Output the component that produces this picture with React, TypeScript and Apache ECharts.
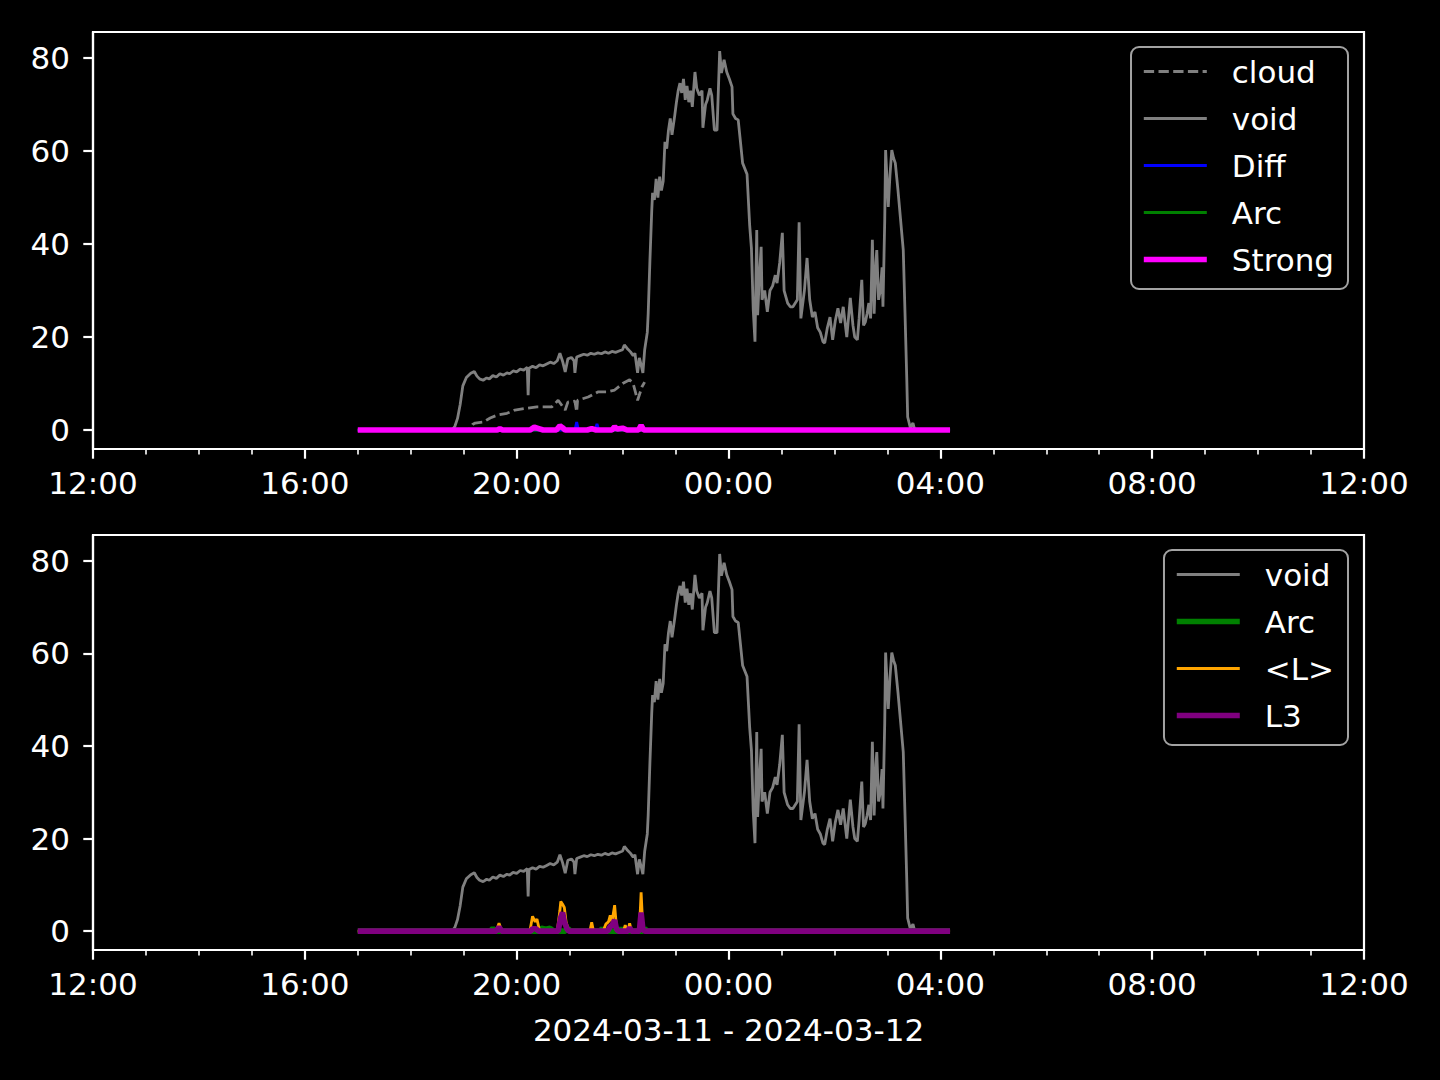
import React, { useEffect, useRef } from "react";
import * as echarts from "echarts";

// ---- data ----
const VOID_T = [
  "17:00","18:47","18:50","18:53","18:56","18:59","19:03","19:08","19:12","19:15","19:18","19:22","19:26","19:29","19:33","19:37","19:41","19:45","19:49","19:52","19:56",
  "20:00","20:04","20:08","20:12","20:13","20:14","20:18","20:22","20:26","20:30","20:34","20:38","20:42","20:46","20:49","20:52","20:55","20:58",
  "21:02","21:05","21:06","21:08","21:12","21:16","21:20","21:24","21:28","21:32","21:36","21:40","21:44","21:48","21:52","21:56",
  "22:00","22:02","22:05","22:09","22:12","22:14","22:17","22:19","22:21","22:23","22:25","22:28","22:29","22:31","22:33","22:34","22:36","22:38","22:40","22:42","22:44","22:46","22:48","22:50","22:52","22:54","22:56","22:59",
  "23:01","23:03","23:05","23:07","23:09","23:11","23:13","23:15","23:17","23:19","23:22","23:24","23:27","23:30","23:31","23:34","23:36","23:39","23:41","23:44","23:47","23:50","23:52","23:55","23:58",
  "00:01","00:04","00:05","00:08","00:11","00:13","00:16","00:21","00:24","00:26","00:28","00:30","00:32","00:33","00:35","00:37","00:38","00:41","00:44","00:47","00:50","00:53","00:55","00:58",
  "01:01","01:03","01:07","01:10","01:13","01:18","01:20","01:22","01:26","01:29","01:32","01:35","01:38","01:41","01:44","01:47","01:49","01:52","01:55","01:58",
  "02:01","02:04","02:07","02:10","02:14","02:18","02:21","02:23","02:26","02:28","02:31","02:33","02:35","02:37","02:39","02:41","02:43","02:45","02:47","02:48","02:50","02:52","02:54","02:55","02:57","02:58",
  "03:01","03:03","03:05","03:07","03:09","03:12","03:16","03:18","03:20","03:22","03:23","03:26","03:29","03:31","04:11"
];
const VOID_V = [
  0,0,0.8,2.5,5.5,9.5,11.3,12.2,12.6,11.6,11.0,10.7,11.2,11.0,11.7,11.4,12.1,11.8,12.3,12.1,12.7,
  12.5,13.1,12.9,13.5,7.5,13.3,13.7,13.4,14.0,13.8,14.2,14.6,14.3,14.9,16.5,14.8,12.5,15.3,
  15.6,14.9,12.3,15.7,16.0,16.3,16.1,16.5,16.3,16.6,16.4,16.8,16.5,16.9,16.7,17.0,
  17.3,18.3,17.6,16.8,16.0,16.5,12.3,15.5,14.0,12.3,17.2,21.0,25.0,36.6,47.0,51.0,49.5,54.0,50.0,54.5,51.5,53.5,62.0,60.5,64.5,67.0,63.5,67.5,
  70.5,73.0,74.6,72.5,75.5,71.0,74.0,70.5,73.0,69.5,77.0,73.5,72.0,73.0,65.0,70.0,71.0,73.5,72.0,64.5,64.5,81.5,76.8,79.6,77.0,
  75.5,73.8,68.0,67.0,66.7,63.0,57.4,55.0,44.0,39.0,26.0,19.0,43.0,24.7,33.0,39.4,28.0,30.0,25.4,30.0,31.0,33.3,31.6,36.0,
  42.4,30.0,27.3,26.5,26.5,28.0,44.7,24.0,30.0,37.0,28.0,24.3,25.4,22.0,21.0,19.0,18.7,22.0,24.3,19.4,
  23.5,26.2,23.0,26.5,20.0,28.4,22.5,20.0,19.4,24.0,32.3,22.5,23.2,25.0,27.3,24.0,40.9,25.0,36.0,38.7,28.0,30.0,35.0,26.5,45.0,60.2,
  48.0,55.0,60.2,58.5,57.4,51.6,43.0,38.7,25.0,10.8,2.8,0.5,1.5,0,0
];

const CLOUD_T = [
  "17:00","19:06","19:10","19:13","19:22","19:30","19:38","19:49","19:58","20:12","20:23","20:34","20:40","20:47","20:55","20:58","21:06","21:08","21:09","21:21","21:32","21:43","21:51","22:00","22:08","22:12","22:17","22:22","22:25"
];
const CLOUD_V = [
  0,0,1.2,1.5,1.7,2.6,3.2,3.6,4.3,4.7,5.0,5.0,5.0,6.4,4.3,6.0,6.2,3.9,6.4,7.1,8.2,8.2,8.6,10.0,10.8,10.0,6.4,9.3,10.3
];

const DIFF_T = ["17:00","21:06","21:08","21:10","21:29","21:31","21:33","04:11"];
const DIFF_V = [0,0,1.7,0,0,1.3,0,0];

const ARC_TOP_T = ["17:00","20:47","20:50","20:53","21:45","21:47","21:49","04:11"];
const ARC_TOP_V = [0,0,0.4,0,0,0.3,0,0];

const STRONG_T = [
  "17:00","19:38","19:41","19:44","20:15","20:20","20:25","20:30","20:45","20:49","20:52","20:55","21:20","21:25","21:30","21:48","21:51","21:54","22:00","22:05","22:18","22:21","22:24","04:11"
];
const STRONG_V = [0,0,0.3,0,0,0.6,0.3,0,0,0.9,0.5,0,0,0.3,0,0,0.7,0.2,0.4,0,0,1.0,0,0];

const ARC_BOT_T = [
  "17:00","19:30","19:33","19:36","20:24","20:28","20:33","20:38","20:42","20:55","20:58","21:01","21:35","21:37","21:39","21:56","21:58","22:00","22:23","22:25","22:27","04:11"
];
const ARC_BOT_V = [0,0,0.6,0,0,0.6,0.4,0.6,0,0,0.6,0,0,0.6,0,0,0.6,0,0,0.6,0,0];

const L_T = [
  "17:00","19:37","19:40","19:43","20:15","20:18","20:21","20:23","20:26","20:46","20:49","20:50","20:52","20:54","20:56","20:59","21:23","21:25","21:27","21:38","21:41","21:44","21:46","21:48","21:51","21:53","21:55","22:01","22:03","22:05","22:06","22:08","22:10","22:19","22:21","22:23","22:25","04:11"
];
const L_V = [
  0,0,1.7,0,0,3.2,2.0,2.6,0,0,4.5,6.4,5.8,5.1,2.0,0,0,1.9,0,0,1.5,2.0,3.4,2.0,5.6,1.0,0,0,1.3,0,0,1.7,0,0,8.4,0.5,0,0
];

const L3_T = [
  "17:00","19:37","19:40","19:43","20:16","20:18","20:22","20:25","20:47","20:50","20:52","20:54","20:57","20:59","21:43","21:46","21:48","21:51","21:53","21:55","22:06","22:08","22:10","22:19","22:21","22:23","22:25","04:11"
];
const L3_V = [0,0,0.9,0,0,0.5,0.5,0,0,3.0,4.0,2.0,0.5,0,0,1.0,1.2,2.4,0.5,0,0,0.8,0,0,4.0,0.4,0,0];

const X_TICK_LABELS = ["12:00","16:00","20:00","00:00","04:00","08:00","12:00"];
const Y_TICKS = [0, 20, 40, 60, 80];
const DATE_LABEL = "2024-03-11 - 2024-03-12";

// hours since 2024-03-11 12:00
function toHours(t: string): number {
  const [hh, mm] = t.split(":").map(Number);
  const h = hh < 12 ? hh + 24 : hh;
  return h - 12 + mm / 60;
}
function pairs(ts: string[], vs: number[]) {
  return ts.map((t, i) => [toHours(t), vs[i]]);
}

const FONT = "DejaVu Sans";
const FS = 31;

export default function App() {
  const ref = useRef<HTMLDivElement>(null);
  useEffect(() => {
    document.body.style.margin = "0";
    document.body.style.background = "#000";
    const chart = echarts.init(ref.current!, null, { renderer: "svg" });

    const grids = [
      { left: 93, top: 32, width: 1271, height: 417 },
      { left: 93, top: 535, width: 1271, height: 415 },
    ];

    const xAxisBase = (gi: number) => ({
      type: "value" as const,
      gridIndex: gi,
      min: 0,
      max: 24,
      interval: 4,
      axisLine: { show: true, onZero: false, lineStyle: { color: "#fff", width: 2.2 } },
      axisTick: { show: true, inside: false, length: 9.7, lineStyle: { color: "#fff", width: 2.2 } },
      minorTick: { show: true, splitNumber: 4, length: 5.6, lineStyle: { color: "#fff", width: 1.6 } },
      splitLine: { show: false },
      axisLabel: {
        color: "#fff",
        fontFamily: FONT,
        fontSize: FS,
        margin: 18,
        formatter: (v: number) => X_TICK_LABELS[Math.round(v / 4)] ?? "",
      },
    });

    const yAxisBase = (gi: number) => ({
      type: "value" as const,
      gridIndex: gi,
      min: -4.08,
      max: 85.6,
      axisLine: { show: true, onZero: false, lineStyle: { color: "#fff", width: 2.2 } },
      axisTick: { show: true, length: 9.7, customValues: Y_TICKS, lineStyle: { color: "#fff", width: 2.2 } },
      splitLine: { show: false },
      axisLabel: {
        color: "#fff",
        fontFamily: FONT,
        fontSize: FS,
        margin: 23,
        customValues: Y_TICKS,
      },
    });

    const line = (name: string, gi: number, data: any[], color: string, width: number, type: any = "solid", z = 2) => ({
      name,
      type: "line" as const,
      xAxisIndex: gi,
      yAxisIndex: gi,
      data,
      symbol: "none",
      showSymbol: false,
      smooth: false,
      z,
      lineStyle: { color, width, type },
      itemStyle: { color },
      emphasis: { disabled: true },
    });

    const legendBase = {
      orient: "vertical" as const,
      right: 92,
      itemWidth: 63,
      itemHeight: 28,
      itemGap: 16,
      padding: [9, 14, 14, 10],
      backgroundColor: "rgba(0,0,0,0.8)",
      borderColor: "#a3a3a3",
      borderWidth: 2,
      borderRadius: 8,
      itemStyle: { opacity: 0, borderWidth: 0 },
      lineStyle: { width: "inherit" },
      textStyle: { color: "#fff", fontFamily: FONT, fontSize: FS, padding: [0, 0, 0, 20] },
      selectedMode: false,
    };

    chart.setOption({
      animation: false,
      backgroundColor: "#000",
      grid: grids.map((g) => ({ ...g, show: true, borderColor: "#fff", borderWidth: 2.2, backgroundColor: "#000" })),
      xAxis: [
        xAxisBase(0),
        {
          ...xAxisBase(1),
          name: DATE_LABEL,
          nameLocation: "middle",
          nameGap: 64,
          nameTextStyle: { color: "#fff", fontFamily: FONT, fontSize: FS, verticalAlign: "top" },
        },
      ],
      yAxis: [yAxisBase(0), yAxisBase(1)],
      legend: [
        {
          ...legendBase,
          top: 47,
          data: [
            { name: "cloud" },
            { name: "void" },
            { name: "Diff" },
            { name: "Arc", lineStyle: { width: 2.8, color: "#008000" } },
            { name: "Strong" },
          ],
        },
        {
          ...legendBase,
          top: 550,
          data: [
            { name: "void" },
            { name: "Arc", lineStyle: { width: 5.6, color: "#008000" } },
            { name: "<L>" },
            { name: "L3" },
          ],
        },
      ],
      series: [
        line("cloud", 0, pairs(CLOUD_T, CLOUD_V), "#808080", 2.8, [10.3, 4.4], 2),
        line("void", 0, pairs(VOID_T, VOID_V), "#808080", 2.8, "solid", 3),
        line("Diff", 0, pairs(DIFF_T, DIFF_V), "#0000ff", 2.8, "solid", 4),
        line("Arc", 0, pairs(ARC_TOP_T, ARC_TOP_V), "#008000", 2.8, "solid", 5),
        line("Strong", 0, pairs(STRONG_T, STRONG_V), "#ff00ff", 5.6, "solid", 6),
        line("void", 1, pairs(VOID_T, VOID_V), "#808080", 2.8, "solid", 3),
        line("Arc", 1, pairs(ARC_BOT_T, ARC_BOT_V), "#008000", 5.6, "solid", 4),
        line("<L>", 1, pairs(L_T, L_V), "#ffa500", 2.8, "solid", 5),
        line("L3", 1, pairs(L3_T, L3_V), "#800080", 5.6, "solid", 6),
      ],
    });
    return () => chart.dispose();
  }, []);
  return <div ref={ref} style={{ width: 1440, height: 1080, background: "#000" }} />;
}
